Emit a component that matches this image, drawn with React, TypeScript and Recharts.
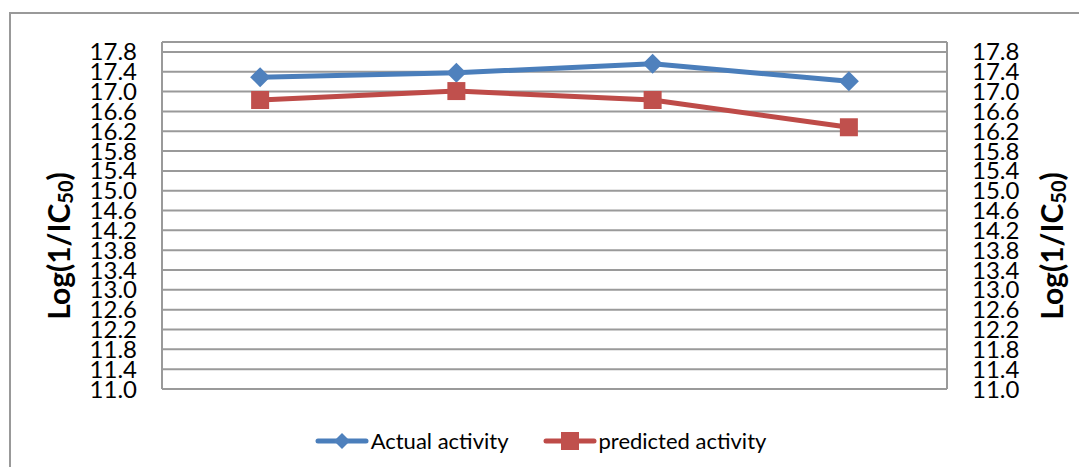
import React from "react";
import {
  CartesianGrid,
  Legend,
  Line,
  LineChart,
  XAxis,
  YAxis,
} from "recharts";

const compounds = ["C1", "C2", "C3", "C4"];
const actualActivity = [17.29, 17.38, 17.56, 17.21];
const predictedActivity = [16.83, 17.01, 16.83, 16.28];
const yTicks = [
  11.0, 11.4, 11.8, 12.2, 12.6, 13.0, 13.4, 13.8, 14.2, 14.6, 15.0, 15.4, 15.8,
  16.2, 16.6, 17.0, 17.4, 17.8,
];

const BLUE = "#4A7EBB";
const BLUE_MARK = "#4F81BD";
const RED = "#BE4B48";
const RED_MARK = "#C0504D";
const GRID = "#9a9a9a";
const FONT = "Lato, 'Open Sans', sans-serif";

const data = compounds.map((c, i) => ({
  name: c,
  actual: actualActivity[i],
  predicted: predictedActivity[i],
}));

function Diamond(p: any) {
  const { cx, cy, index } = p;
  const r = 10;
  return (
    <path
      key={`dia-${index}`}
      d={`M${cx},${cy - r} L${cx + r},${cy} L${cx},${cy + r} L${cx - r},${cy} Z`}
      fill={BLUE_MARK}
    />
  );
}

function Square(p: any) {
  const { cx, cy, index } = p;
  const s = 18;
  return (
    <rect
      key={`sq-${index}`}
      x={cx - s / 2}
      y={cy - s / 2}
      width={s}
      height={s}
      fill={RED_MARK}
    />
  );
}

// Log(1/IC50) title, rotated, with subscript
function axisTitle(side: "left" | "right") {
  return (props: any) => {
    const vb = props.viewBox || {};
    const cx = side === "left" ? vb.x + vb.width - 104 : vb.x + 104;
    const cy = 238;
    return (
      <text
        x={cx}
        y={cy}
        transform={`rotate(-90 ${cx} ${cy})`}
        textAnchor="middle"
        dominantBaseline="central"
        fontFamily={FONT}
        fontWeight="bold"
        fontSize={30}
        fill="#000"
      >
        Log(1/IC
        <tspan fontSize={20} dy={7}>
          50
        </tspan>
        <tspan dy={-7}>)</tspan>
      </text>
    );
  };
}

function LegendItems() {
  const item = (color: string, mark: React.ReactNode, label: string) => (
    <div style={{ display: "flex", alignItems: "center" }}>
      <svg width={54} height={24}>
        <line
          x1={3}
          y1={12}
          x2={51}
          y2={12}
          stroke={color}
          strokeWidth={5}
          strokeLinecap="round"
        />
        {mark}
      </svg>
      <span style={{ marginLeft: 2 }}>{label}</span>
    </div>
  );
  return (
    <div
      style={{
        display: "flex",
        justifyContent: "center",
        gap: 34,
        fontFamily: FONT,
        fontSize: 22,
        color: "#000",
        paddingRight: 6,
      }}
    >
      {item(
        BLUE,
        <path d="M27,4 L35,12 L27,20 L19,12 Z" fill={BLUE_MARK} />,
        "Actual activity"
      )}
      {item(
        RED,
        <rect x={18} y={3} width={18} height={18} fill={RED_MARK} />,
        "predicted activity"
      )}
    </div>
  );
}

export default function App() {
  return (
    <div style={{ position: "relative", width: 1071, height: 459 }}>
      <div
        style={{
          position: "absolute",
          left: 1,
          top: 4,
          width: 1070,
          height: 455,
          borderTop: "2px solid #999",
          borderLeft: "2px solid #999",
          boxSizing: "border-box",
        }}
      />
      <LineChart
        width={1071}
        height={459}
        data={data}
        margin={{ top: 34, right: 52, bottom: 51, left: 74 }}
        style={{ position: "absolute", left: 0, top: 0 }}
      >
        <CartesianGrid
          yAxisId="left"
          vertical={false}
          stroke={GRID}
          strokeWidth={2}
        />
        <XAxis dataKey="name" scale="band" height={0} hide />
        <YAxis
          yAxisId="left"
          orientation="left"
          width={80}
          domain={[11, 18]}
          ticks={yTicks}
          interval={0}
          tickFormatter={(v: number) => v.toFixed(1)}
          tickLine={false}
          tickSize={0}
          tickMargin={25}
          axisLine={{ stroke: GRID, strokeWidth: 2 }}
          tick={{ fontFamily: FONT, fontSize: 24, fill: "#000" }}
          label={{ content: axisTitle("left") }}
        />
        <YAxis
          yAxisId="right"
          orientation="right"
          width={80}
          domain={[11, 18]}
          ticks={yTicks}
          interval={0}
          tickFormatter={(v: number) => v.toFixed(1)}
          tickLine={false}
          tickSize={0}
          tickMargin={25}
          axisLine={{ stroke: GRID, strokeWidth: 2 }}
          tick={{ fontFamily: FONT, fontSize: 24, fill: "#000" }}
          label={{ content: axisTitle("right") }}
        />
        <Line
          yAxisId="left"
          dataKey="actual"
          name="Actual activity"
          stroke={BLUE}
          strokeWidth={5}
          strokeLinejoin="round"
          dot={Diamond}
          activeDot={false}
          isAnimationActive={false}
        />
        <Line
          yAxisId="right"
          dataKey="predicted"
          name="predicted activity"
          stroke={RED}
          strokeWidth={5}
          strokeLinejoin="round"
          dot={Square}
          activeDot={false}
          isAnimationActive={false}
        />
        <Legend
          layout="vertical"
          align="center"
          verticalAlign="bottom"
          content={() => <LegendItems />}
          wrapperStyle={{ top: 419, left: 0, width: 1071 }}
        />
      </LineChart>
    </div>
  );
}
